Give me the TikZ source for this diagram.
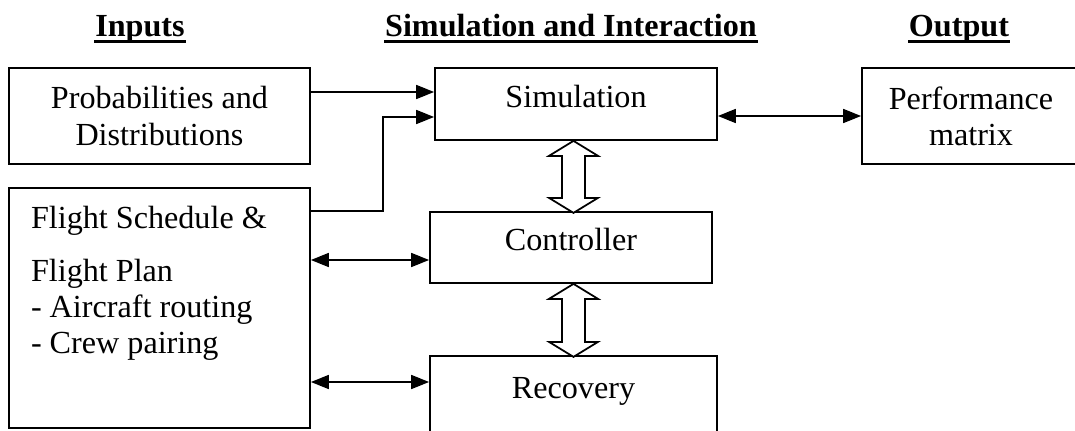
\documentclass[tikz,border=0pt]{standalone}
\usepackage{fontspec}
\setmainfont{Liberation Serif}
\usetikzlibrary{arrows.meta}
\usetikzlibrary{positioning}
\tikzset{
  % filled triangle tips for all connectors
  >={Triangle[length=0.36cm,width=0.28cm]},
  line/.style={draw, ->},
  biline/.style={draw, <->}
}

\begin{document}
\begin{tikzpicture}[line width=1pt, font=\fontsize{18.3}{20.5}\selectfont]
    % Define styles
    \tikzstyle{block} = [rectangle, draw, minimum height=1.44cm, text height=0.68em, text depth=0.32em]
    \tikzstyle{source} = [rectangle, draw, align=center, minimum width=6.02cm, minimum height=1.92cm]
    \tikzstyle{head} = [inner sep=0pt, anchor=base, font=\fontsize{18.3}{20.5}\selectfont\bfseries]
    \tikzstyle{uline} = [draw, line width=0.06cm]
    \tikzstyle{hollow} = [draw, fill=white, line join=miter]

    \useasboundingbox (0,0) rectangle (21.5,-8.6);

    % Column headings
    \node [head] (inputs) at (2.8,-0.72) {Inputs};
    \node [head] (siminter) at (11.42,-0.72) {Simulation and Interaction};
    \node [head] (output) at (19.18,-0.72) {Output};
    \path [uline] ([yshift=-0.11cm]inputs.base west) -- ([yshift=-0.11cm]inputs.base east);
    \path [uline] ([yshift=-0.11cm]siminter.base west) -- ([yshift=-0.11cm]siminter.base east);
    \path [uline] ([yshift=-0.11cm]output.base west) -- ([yshift=-0.11cm]output.base east);

    % Place nodes
    \node [block, minimum width=5.64cm] (sim) at (11.52,-2.08) {Simulation};
    \node [block, minimum width=5.64cm, minimum height=1.42cm, below of=sim, node distance=2.87cm, xshift=-0.1cm] (ctrl) {Controller};
    \node [block, minimum width=5.74cm, minimum height=1.56cm, below of=ctrl, node distance=2.95cm, xshift=0.05cm] (recov) {Recovery};
    \node [source, left of=sim, node distance=8.33cm, yshift=-0.24cm] (prob) {Probabilities and\\Distributions};
    \node [source, minimum height=4.8cm, below of=prob, node distance=3.84cm] (flight) {};
    \node [inner sep=0pt, align=left, below right=0.36cm and 0.44cm of flight.north west] (flightlist) {Flight Schedule \&\\[0.34cm]Flight Plan\\- Aircraft routing\\- Crew pairing};
    \node [source, minimum width=4.36cm, right of=sim, node distance=7.9cm, yshift=-0.24cm] (perf) {Performance\\matrix};

    % Draw edges
    \path [line] ([yshift=0.48cm]prob.east) -- ([yshift=0.24cm]sim.west);
    \path [line] ([yshift=-0.48cm]flight.north east) -- ++(1.44,0) |- ([yshift=-0.26cm]sim.west);
    \path [biline] ([yshift=-0.24cm]sim.east) -- (perf.west);
    \path [biline] ([yshift=0.96cm]flight.east) -- ([yshift=-0.25cm]ctrl.west);
    \path [biline] ([yshift=-1.48cm]flight.east) -- ([yshift=0.26cm]recov.west);

    % Two-way block arrows down the middle column
    \path [hollow] (recov.north |- sim.south) -- ++(0.49,-0.3) -- ++(-0.26,0) -- ++(0,-0.84) -- ++(0.26,0) -- ++(-0.49,-0.3) -- ++(-0.49,0.3) -- ++(0.26,0) -- ++(0,0.84) -- ++(-0.26,0) -- cycle;
    \path [hollow] (recov.north |- ctrl.south) -- ++(0.49,-0.3) -- ++(-0.26,0) -- ++(0,-0.86) -- ++(0.26,0) -- ++(-0.49,-0.3) -- ++(-0.49,0.3) -- ++(0.26,0) -- ++(0,0.86) -- ++(-0.26,0) -- cycle;
\end{tikzpicture}
\end{document}
